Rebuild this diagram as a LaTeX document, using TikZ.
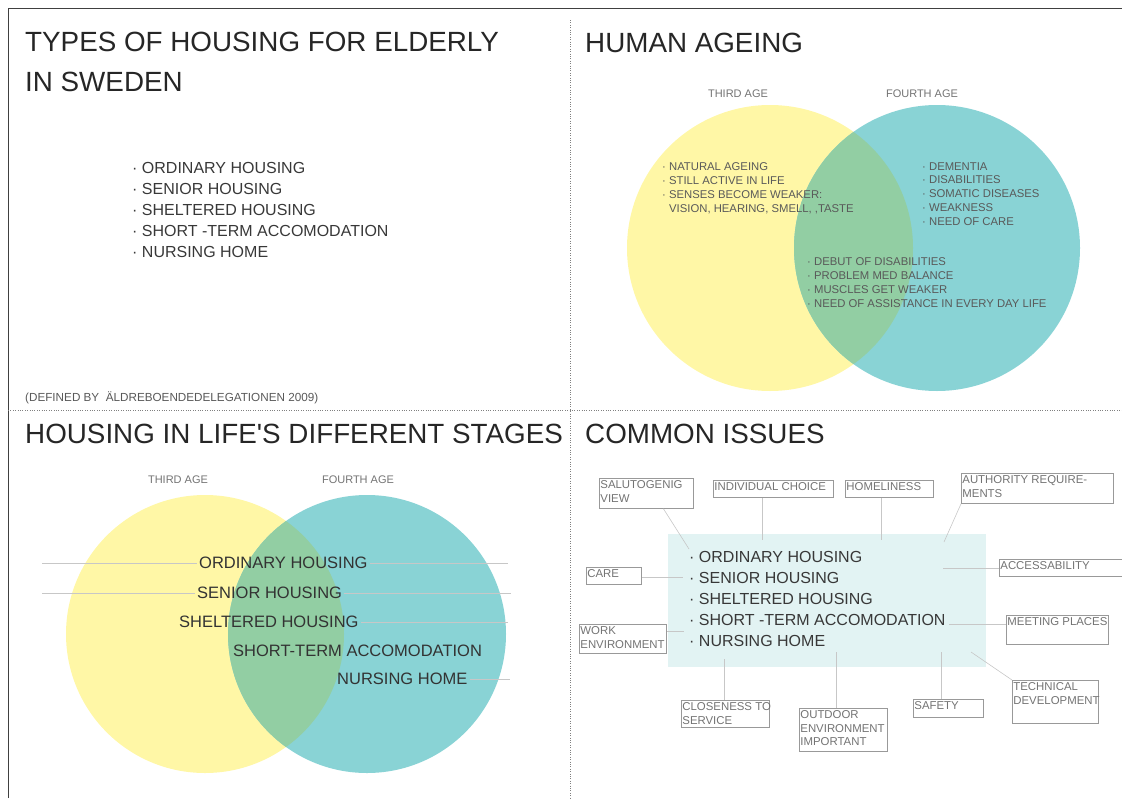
\documentclass[tikz,border=0pt]{standalone}
\usepackage{fontspec}
\setmainfont{Liberation Sans}
\usetikzlibrary{calc}

\definecolor{thirdage}{RGB}{255,247,166}
\definecolor{fourthage}{RGB}{137,211,213}
\definecolor{bothages}{RGB}{146,206,163}
\definecolor{corefill}{RGB}{226,243,243}

\newcommand{\ibox}[3]{\parbox[c][#2][t]{#1}{\raggedright\strut #3}}

\begin{document}
\begin{tikzpicture}[x=1pt,y=-1pt,
  title/.style={anchor=base west,inner sep=0pt,text=black!85,font=\fontsize{27.8}{33}\selectfont},
  item/.style={anchor=base west,inner sep=0pt,text=black!78,font=\fontsize{16}{19}\selectfont},
  stage/.style={anchor=west,inner sep=2pt,text=black!80,font=\fontsize{16.5}{19}\selectfont},
  note/.style={anchor=base west,inner sep=0pt,text=black!65,font=\fontsize{11.3}{14}\selectfont},
  age/.style={inner sep=0pt,text=black!55,font=\fontsize{11}{14}\selectfont},
  issue/.style={draw=black!40,line width=0.8pt,anchor=north west,inner sep=1pt,text=black!55,font=\fontsize{11.4}{13.5}\selectfont},
  link/.style={draw=black!22,line width=0.6pt},
  divider/.style={draw=black!50,line width=0.8pt,dash pattern=on 0.8pt off 1.6pt}]

\useasboundingbox (0,0) rectangle (1122,798);

% frame
\draw[black!75,line width=1pt] (8.5,798) -- (8.5,8.5) -- (1122,8.5);
\draw[divider] (570.5,20) -- (570.5,798);
\draw[divider] (8,410.5) -- (1122,410.5);

% types of housing
\node[title] (types-t1) at (25,51) {TYPES OF HOUSING FOR ELDERLY};
\node[title] (types-t2) at (25,91) {IN SWEDEN};
\foreach \txt [count=\i] in {ORDINARY HOUSING,SENIOR HOUSING,SHELTERED HOUSING,SHORT -TERM ACCOMODATION,NURSING HOME}
  \node[item] (type-\i) at (132,{173+21.2*(\i-1)}) {·\ \txt};
\node[note,font=\fontsize{11.7}{14}\selectfont] (source) at (25,401) {(DEFINED BY \ ÄLDREBOENDEDELEGATIONEN 2009)};

% human ageing
\node[title] (ageing-t) at (585,52) {HUMAN AGEING};
\fill[thirdage] (770,248) circle[radius=143pt];
\fill[fourthage] (937,248) circle[radius=143pt];
\begin{scope}
  \clip (770,248) circle[radius=143pt];
  \fill[bothages] (937,248) circle[radius=143pt];
\end{scope}
\node[age] (third-a) at (738,94) {THIRD AGE};
\node[age] (fourth-a) at (922,94) {FOURTH AGE};

\node[note] (nat) at (662,170) {·\ NATURAL AGEING};
\node[note] (act) at (662,184) {·\ STILL ACTIVE IN LIFE};
\node[note] (sens) at (662,198) {·\ SENSES BECOME WEAKER:};
\node[note] (vis) at (669,212) {VISION, HEARING, SMELL, ,TASTE};
\foreach \txt [count=\i] in {DEMENTIA,DISABILITIES,SOMATIC DISEASES,WEAKNESS,NEED OF CARE}
  \node[note] (fourth-\i) at (922,{170+13.9*(\i-1)}) {·\ \txt};
\foreach \txt [count=\i] in {DEBUT OF DISABILITIES,PROBLEM MED BALANCE,MUSCLES GET WEAKER,NEED OF ASSISTANCE IN EVERY DAY LIFE}
  \node[note] (both-\i) at (807,{265+14*(\i-1)}) {·\ \txt};

% housing in life's different stages
\node[title] (stages-t) at (25,443) {HOUSING IN LIFE\textquotesingle S DIFFERENT STAGES};
\fill[thirdage] (205,634) circle[radius=139pt];
\fill[fourthage] (367,634) circle[radius=139pt];
\begin{scope}
  \clip (205,634) circle[radius=139pt];
  \fill[bothages] (367,634) circle[radius=139pt];
\end{scope}
\node[age] (third-b) at (178,480) {THIRD AGE};
\node[age] (fourth-b) at (358,480) {FOURTH AGE};

\node[stage] (s-ord) at (197,563) {ORDINARY HOUSING};
\node[stage] (s-sen) at (195,593) {SENIOR HOUSING};
\node[stage] (s-shel) at (177,622) {SHELTERED HOUSING};
\node[stage] (s-short) at (231,651) {SHORT-TERM ACCOMODATION};
\node[stage] (s-nurs) at (335,679) {NURSING HOME};

\coordinate (ord-l) at (42,563);
\coordinate (ord-r) at (508,563);
\coordinate (sen-l) at (42,593);
\coordinate (sen-r) at (511,593);
\coordinate (shel-r) at (508,622);
\coordinate (nurs-r) at (510,679);
\draw[link] (ord-l) -- (s-ord.west);
\draw[link] (s-ord.east) -- (ord-r);
\draw[link] (sen-l) -- (s-sen.west);
\draw[link] (s-sen.east) -- (sen-r);
\draw[link] (s-shel.east) -- (shel-r);
\draw[link] (s-nurs.east) -- (nurs-r);

% common issues
\node[title] (issues-t) at (585,443) {COMMON ISSUES};
\fill[corefill] (668,534) rectangle (986,667);
\foreach \txt [count=\i] in {ORDINARY HOUSING,SENIOR HOUSING,SHELTERED HOUSING,SHORT -TERM ACCOMODATION,NURSING HOME}
  \node[item] (core-\i) at (689,{562+21*(\i-1)}) {·\ \txt};

\node[issue] (salut) at (599,478) {\ibox{92pt}{28pt}{SALUTOGENIG\\VIEW}};
\node[issue] (choice) at (713,480) {\ibox{118pt}{15pt}{INDIVIDUAL CHOICE}};
\node[issue] (home) at (845,480) {\ibox{86pt}{15pt}{HOMELINESS}};
\node[issue] (auth) at (961,473) {\ibox{150pt}{28pt}{AUTHORITY REQUIRE-\\MENTS}};
\node[issue] (care) at (586,567) {\ibox{53pt}{15pt}{CARE}};
\node[issue] (access) at (999,559) {\ibox{128pt}{15pt}{ACCESSABILITY}};
\node[issue] (work) at (579,624) {\ibox{85pt}{27pt}{WORK\\ENVIRONMENT}};
\node[issue] (meet) at (1006,615) {\ibox{100pt}{27pt}{MEETING PLACES}};
\node[issue] (tech) at (1012,680) {\ibox{84pt}{41pt}{TECHNICAL\\DEVELOPMENT}};
\node[issue] (close) at (681,700) {\ibox{86pt}{25pt}{\mbox{CLOSENESS TO}\\SERVICE}};
\node[issue] (outdoor) at (799,708) {\ibox{86pt}{41pt}{OUTDOOR\\ENVIRONMENT\\IMPORTANT}};
\node[issue] (safety) at (913,699) {\ibox{68pt}{16pt}{SAFETY}};

\coordinate (salut-e) at (689,549);
\coordinate (choice-e) at (762,540);
\coordinate (home-e) at (881,540);
\coordinate (auth-e) at (944,542);
\coordinate (care-e) at (683,577);
\coordinate (access-e) at (943,568);
\coordinate (work-e) at (684,631);
\coordinate (meet-e) at (949,624);
\coordinate (tech-e) at (971,652);
\coordinate (close-e) at (724,659);
\coordinate (outdoor-e) at (836,652);
\coordinate (safety-e) at (941,652);

\draw[link] ($(salut.south west)!0.68!(salut.south east)$) -- (salut-e);
\draw[link] (choice-e |- choice.south) -- (choice-e);
\draw[link] (home-e |- home.south) -- (home-e);
\draw[link] (auth.south west) -- (auth-e);
\draw[link] (care.east |- care-e) -- (care-e);
\draw[link] (access-e) -- (access-e -| access.west);
\draw[link] (work-e -| work.east) -- (work-e);
\draw[link] (meet-e) -- (meet-e -| meet.west);
\draw[link] (tech-e) -- (tech.north west);
\draw[link] (close-e) -- (close-e |- close.north);
\draw[link] (outdoor-e) -- (outdoor-e |- outdoor.north);
\draw[link] (safety-e) -- (safety-e |- safety.north);

\end{tikzpicture}
\end{document}
